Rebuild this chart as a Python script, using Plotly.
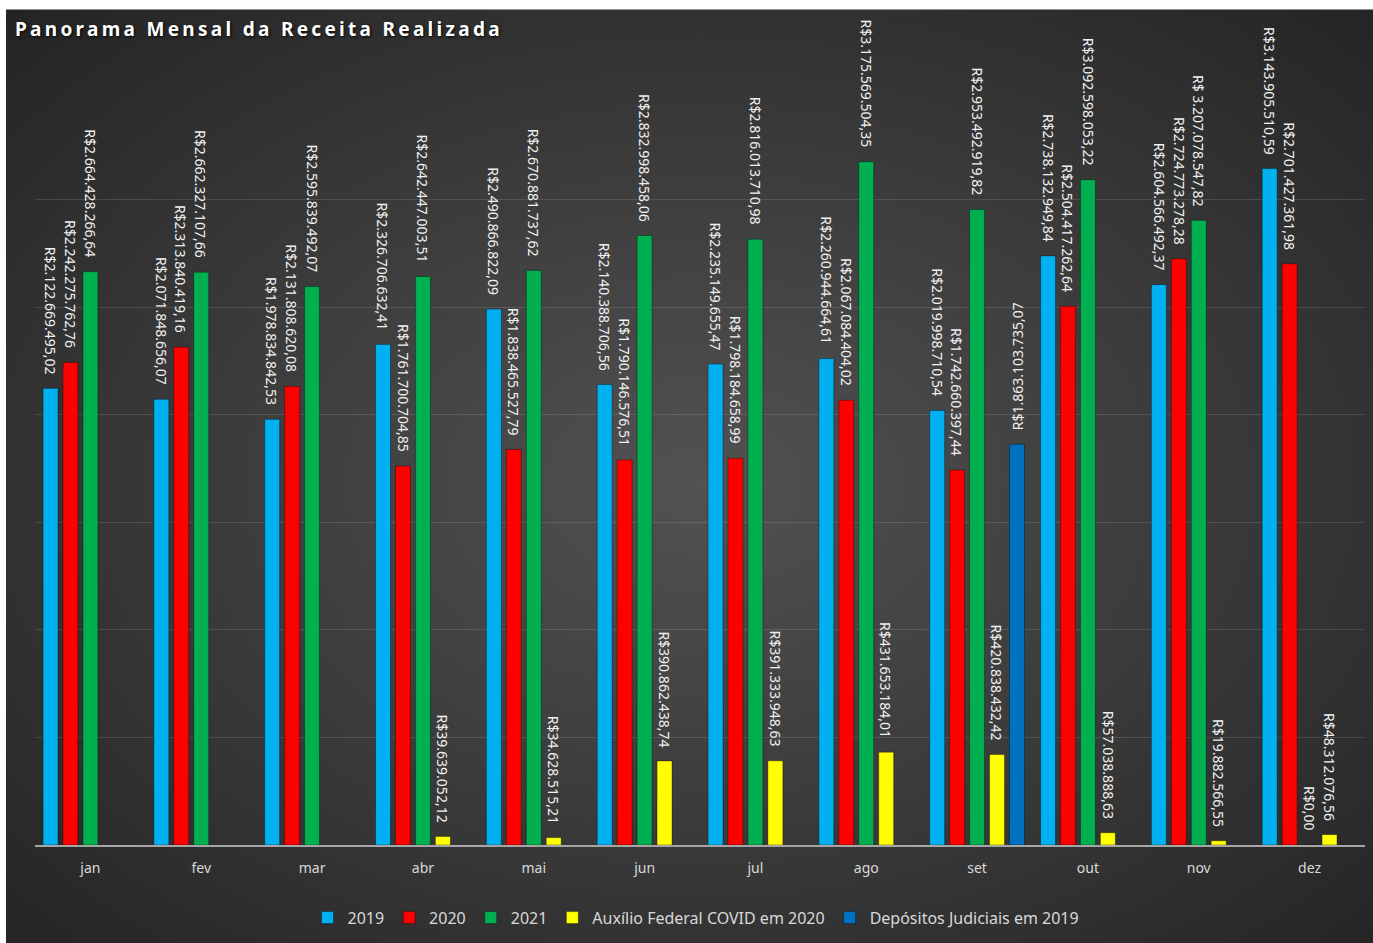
import base64
import plotly.graph_objects as go

# ---------------- data ----------------
months = ["jan", "fev", "mar", "abr", "mai", "jun", "jul", "ago", "set", "out", "nov", "dez"]

receita_2019 = [2122669495.02, 2071848656.07, 1978834842.53, 2326706632.41, 2490866822.09,
                2140388706.56, 2235149655.47, 2260944664.61, 2019998710.54, 2738132949.84,
                2604566492.37, 3143905510.59]
receita_2020 = [2242275762.76, 2313840419.16, 2131808620.08, 1761700704.85, 1838465527.79,
                1790146576.51, 1798184658.99, 2067084404.02, 1742660397.44, 2504417262.64,
                2724773278.28, 2701427361.98]
# nov bar is drawn lower than its (typed) label in the original chart
receita_2021 = [2664428266.64, 2662327107.66, 2595839492.07, 2642447003.51, 2670881737.62,
                2832998458.06, 2816013710.98, 3175569504.35, 2953492919.82, 3092598053.22,
                2904000000.00, 0.00]
auxilio_covid_2020 = [None, None, None, 39639052.12, 34628515.21, 390862438.74, 391333948.63,
                      431653184.01, 420838432.42, 57038888.63, 19882566.55, 48312076.56]
depositos_judiciais_2019 = [None, None, None, None, None, None, None, None,
                            1863103735.07, None, None, None]

series_names = ["2019", "2020", "2021", "Auxílio Federal COVID em 2020", "Depósitos Judiciais em 2019"]
series_values = [receita_2019, receita_2020, receita_2021, auxilio_covid_2020, depositos_judiciais_2019]
label_overrides = {("2021", "nov"): "R$ 3.207.078.547,82"}

title_text = "Panorama Mensal da Receita Realizada"

# ---------------- styles ----------------
colors = ["#00B0F0", "#FF0000", "#00B050", "#FFFF00", "#0070C0"]
label_angles = [90, 90, 90, 90, -90]
FONT = "Noto Sans"

W, H = 1373, 943
ML, MR, MT, MB = 35, 8, 92, 95
PW, PH = W - ML - MR, H - MT - MB
BARGAP, BARGROUPGAP = 0.1, 0.25
slot_px = (PW / len(months)) * (1 - BARGAP) / len(series_names)


def brl(v):
    s = f"{v:,.2f}"
    return "R$" + s.replace(",", "X").replace(".", ",").replace("X", ".")


fig = go.Figure()
annotations = []
for i, (name, vals) in enumerate(zip(series_names, series_values)):
    fig.add_trace(go.Bar(
        name=name, x=months, y=vals,
        marker=dict(color=colors[i], line=dict(color="rgba(0,0,0,0.35)", width=1)),
        hoverinfo="x+y+name",
    ))
    for m, v in zip(months, vals):
        if v is None:
            continue
        annotations.append(dict(
            x=m, y=v, xref="x", yref="y",
            text=label_overrides.get((name, m), brl(v)),
            textangle=label_angles[i], showarrow=False,
            xanchor="center", yanchor="bottom",
            xshift=(i - (len(series_names) - 1) / 2) * slot_px, yshift=12,
            font=dict(family=FONT, size=14, color="#f0f0f0"),
        ))

# radial gradient background as svg image
svg = ('<svg xmlns="http://www.w3.org/2000/svg" width="1367" height="934" preserveAspectRatio="none">'
       '<defs><radialGradient id="g" cx="50%" cy="50%" r="70%">'
       '<stop offset="0%" stop-color="#525252"/><stop offset="100%" stop-color="#242424"/>'
       '</radialGradient></defs><rect width="100%" height="100%" fill="url(#g)"/></svg>')
src = "data:image/svg+xml;base64," + base64.b64encode(svg.encode()).decode()
bg_x0, bg_y0, overshoot = 6, 9, 20
fig.add_layout_image(dict(
    source=src, xref="paper", yref="paper",
    x=(bg_x0 - ML) / PW, y=(H - MB - bg_y0) / PH,
    sizex=(W - bg_x0 + overshoot) / PW, sizey=(H - bg_y0 + overshoot) / PH,
    xanchor="left", yanchor="top", sizing="stretch", layer="below",
))

fig.update_layout(
    width=W, height=H,
    margin=dict(l=ML, r=MR, t=MT, b=MB, pad=0),
    paper_bgcolor="white", plot_bgcolor="rgba(0,0,0,0)",
    barmode="group", bargap=BARGAP, bargroupgap=BARGROUPGAP,
    title=dict(
        text=f'<span style="letter-spacing:3.3px">{title_text}</span>',
        x=15 / W, xref="container", xanchor="left",
        y=1 - 29 / H, yref="container", yanchor="middle",
        font=dict(family=FONT, size=19, color="white", weight="bold",
                  shadow="1px 1px 3px rgba(0,0,0,0.9)"),
    ),
    font=dict(family=FONT, color="#d9d9d9"),
    xaxis=dict(
        showgrid=False, showline=True, linecolor="#a6a6a6", linewidth=2,
        ticks="outside", ticklen=9, tickcolor="rgba(0,0,0,0)",
        tickfont=dict(family=FONT, size=14, color="#d9d9d9"),
    ),
    yaxis=dict(
        range=[0, 3.5e9], dtick=0.5e9, showticklabels=False,
        showgrid=True, gridcolor="rgba(255,255,255,0.12)", gridwidth=1,
        zeroline=False, showline=False,
    ),
    legend=dict(
        orientation="h", x=0.497, xanchor="center", y=(H - MB - 921) / PH, yanchor="middle",
        font=dict(family=FONT, size=16, color="#d9d9d9"),
        bgcolor="rgba(0,0,0,0)",
    ),
    annotations=annotations,
    showlegend=True,
)

fig.write_html("out.html", config={"displayModeBar": False},
               post_script="document.body.style.margin='0';")
